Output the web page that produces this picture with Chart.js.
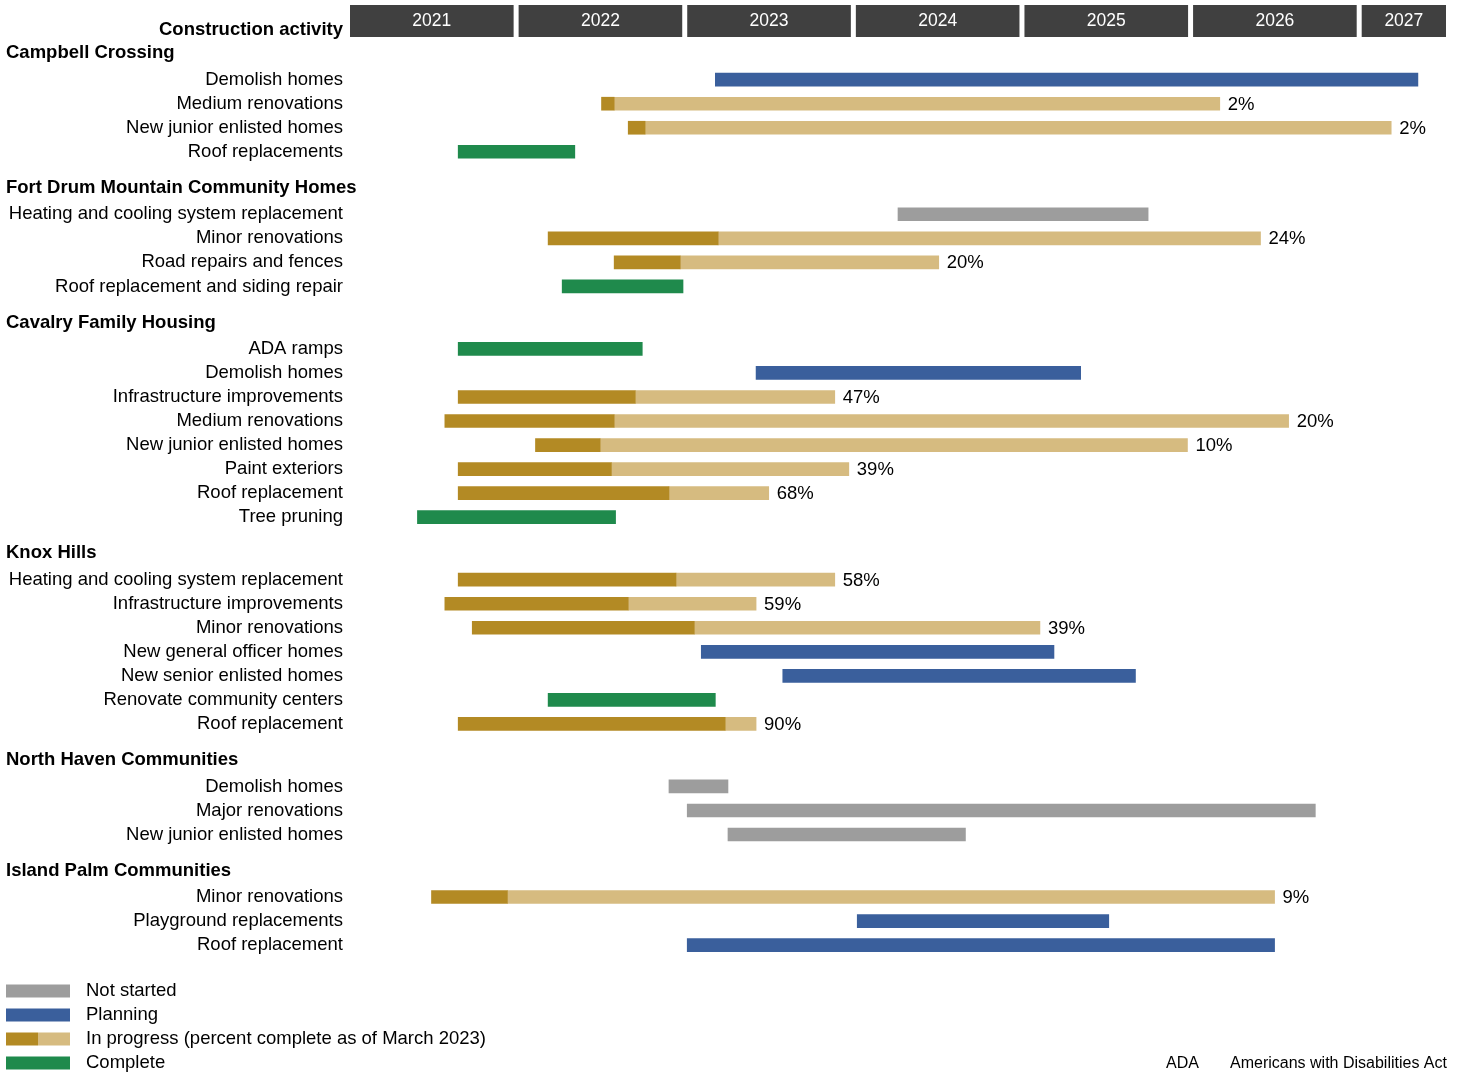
<!DOCTYPE html>
<html>
<head>
<meta charset="utf-8">
<script src="https://cdn.jsdelivr.net/npm/chart.js@4.4.0/dist/chart.umd.min.js"></script>
<style>
  body { margin: 0; background: #fff; }
</style>
</head>
<body>
<canvas id="myChart" width="1459" height="1075"></canvas>
<script>
// months counted from January 2021
const yearLabels = ['2021', '2022', '2023', '2024', '2025', '2026', '2027']

const groupNames = [
  'Campbell Crossing',
  'Fort Drum Mountain Community Homes',
  'Cavalry Family Housing',
  'Knox Hills',
  'North Haven Communities',
  'Island Palm Communities'
]

const activityGroup = [0,0,0,0, 1,1,1,1, 2,2,2,2,2,2,2,2, 3,3,3,3,3,3,3, 4,4,4, 5,5,5]

const activityLabels = [
  'Demolish homes', 'Medium renovations', 'New junior enlisted homes', 'Roof replacements',
  'Heating and cooling system replacement', 'Minor renovations', 'Road repairs and fences', 'Roof replacement and siding repair',
  'ADA ramps', 'Demolish homes', 'Infrastructure improvements', 'Medium renovations', 'New junior enlisted homes', 'Paint exteriors', 'Roof replacement', 'Tree pruning',
  'Heating and cooling system replacement', 'Infrastructure improvements', 'Minor renovations', 'New general officer homes', 'New senior enlisted homes', 'Renovate community centers', 'Roof replacement',
  'Demolish homes', 'Major renovations', 'New junior enlisted homes',
  'Minor renovations', 'Playground replacements', 'Roof replacement'
]

// not = not started, plan = planning, prog = in progress, done = complete
const activityStatus = [
  'plan', 'prog', 'prog', 'done',
  'not', 'prog', 'prog', 'done',
  'done', 'plan', 'prog', 'prog', 'prog', 'prog', 'prog', 'done',
  'prog', 'prog', 'prog', 'plan', 'plan', 'done', 'prog',
  'not', 'not', 'not',
  'prog', 'plan', 'plan'
]

const startMonth = [
  26, 17.9, 19.8, 7.7,
  39, 14.1, 18.8, 15.1,
  7.7, 28.9, 7.7, 6.75, 13.2, 7.7, 7.7, 4.8,
  7.7, 6.75, 8.7, 25, 30.8, 14.1, 7.7,
  22.7, 24, 26.9,
  5.8, 36.1, 24
]

const progressMonth = [
  null, 18.8, 21, null,
  null, 26.2, 23.5, null,
  null, null, 20.3, 18.8, 17.8, 18.6, 22.7, null,
  23.2, 19.8, 24.5, null, null, null, 26.7,
  null, null, null,
  11.2, null, null
]

const endMonth = [
  76, 61.9, 74.1, 16,
  56.8, 64.8, 41.9, 23.7,
  20.8, 52, 34.5, 66.8, 59.6, 35.5, 29.8, 18.9,
  34.5, 28.9, 49.1, 50.1, 55.9, 26, 28.9,
  26.9, 68.7, 43.8,
  65.8, 54, 65.8
]

const percentDone = [
  null, 2, 2, null,
  null, 24, 20, null,
  null, null, 47, 20, 10, 39, 68, null,
  58, 59, 39, null, null, null, 90,
  null, null, null,
  9, null, null
]

const colors = {
  not: '#9d9d9d',
  plan: '#3a5f9c',
  progDone: '#b38a24',
  progLeft: '#d6bb80',
  done: '#1f8a4c',
  header: '#404040'
}

const fontFamily = 'Arial, "Liberation Sans", sans-serif'
const fontSize = 18.5

// row positions on the y scale
let rowPos = []
let headerPos = []
let pos = 0
groupNames.forEach((g, gi) => {
  if (gi > 0) pos += 1.5
  headerPos.push(pos)
  pos += 0.1
  activityGroup.forEach((ag, i) => {
    if (ag === gi) {
      pos += 1
      rowPos[i] = pos
    }
  })
})
const lastPos = pos

function rowsWith(status) {
  return activityLabels.map((l, i) => i).filter(i => activityStatus[i] === status)
}

function barSet(label, color, rows, from, to) {
  return {
    label: label,
    data: rows.map(i => ({ x: [from[i], to[i]], y: rowPos[i] })),
    backgroundColor: color,
    borderWidth: 0,
    barThickness: 13,
    grouped: false
  }
}

const extras = {
  id: 'extras',
  afterDraw(chart) {
    const ctx = chart.ctx
    const xs = chart.scales.x
    const ys = chart.scales.y
    const area = chart.chartArea
    ctx.save()

    // year header band
    ctx.textAlign = 'center'
    ctx.textBaseline = 'middle'
    ctx.font = '17.5px ' + fontFamily
    yearLabels.forEach((yr, k) => {
      const x0 = xs.getPixelForValue(k * 12)
      const x1 = Math.min(xs.getPixelForValue((k + 1) * 12) - 5, area.right)
      ctx.fillStyle = colors.header
      ctx.fillRect(x0, 5, x1 - x0, 32)
      ctx.fillStyle = '#fff'
      ctx.fillText(yr, (x0 + x1) / 2, 21)
    })

    ctx.fillStyle = '#000'
    ctx.font = 'bold ' + fontSize + 'px ' + fontFamily
    ctx.textAlign = 'right'
    ctx.fillText('Construction activity', 343, 30)

    // group headers
    ctx.textAlign = 'left'
    groupNames.forEach((g, gi) => {
      ctx.fillText(g, 6, ys.getPixelForValue(headerPos[gi]))
    })

    // percent labels
    ctx.font = fontSize + 'px ' + fontFamily
    percentDone.forEach((p, i) => {
      if (p === null) return
      ctx.fillText(p + '%', xs.getPixelForValue(endMonth[i]) + 8, ys.getPixelForValue(rowPos[i]) + 1)
    })

    // legend
    const legend = [
      ['Not started', colors.not],
      ['Planning', colors.plan],
      ['In progress (percent complete as of March 2023)', null],
      ['Complete', colors.done]
    ]
    legend.forEach((item, k) => {
      const y = 991 + k * 24
      if (item[1]) {
        ctx.fillStyle = item[1]
        ctx.fillRect(6, y - 6.5, 64, 13)
      } else {
        ctx.fillStyle = colors.progDone
        ctx.fillRect(6, y - 6.5, 32, 13)
        ctx.fillStyle = colors.progLeft
        ctx.fillRect(38, y - 6.5, 32, 13)
      }
      ctx.fillStyle = '#000'
      ctx.fillText(item[0], 86, y)
    })

    ctx.font = '16px ' + fontFamily
    ctx.fillText('ADA', 1166, 1064)
    ctx.fillText('Americans with Disabilities Act', 1230, 1064)
    ctx.restore()
  }
}

const ctx = document.getElementById('myChart')

new Chart(ctx, {
  type: 'bar',
  data: {
    datasets: [
      barSet('Not started', colors.not, rowsWith('not'), startMonth, endMonth),
      barSet('Planning', colors.plan, rowsWith('plan'), startMonth, endMonth),
      barSet('Complete', colors.done, rowsWith('done'), startMonth, endMonth),
      barSet('Done so far', colors.progDone, rowsWith('prog'), startMonth, progressMonth),
      barSet('Remaining', colors.progLeft, rowsWith('prog'), progressMonth, endMonth)
    ]
  },
  options: {
    indexAxis: 'y',
    responsive: false,
    animation: false,
    layout: {
      padding: { top: 40, bottom: 115, left: 0, right: 13 }
    },
    plugins: {
      legend: { display: false },
      tooltip: { enabled: false }
    },
    scales: {
      x: {
        type: 'linear',
        min: 0,
        max: 78,
        display: false
      },
      y: {
        type: 'linear',
        reverse: true,
        offset: false,
        min: -0.55,
        max: lastPos + 0.62,
        grid: { display: false, drawTicks: false, offset: false },
        border: { display: false },
        afterBuildTicks: scale => {
          scale.ticks = rowPos.map(v => ({ value: v }))
        },
        afterFit: scale => {
          scale.width = 350
        },
        ticks: {
          autoSkip: false,
          padding: 7,
          color: '#000',
          font: { size: fontSize, family: fontFamily },
          callback: (v, i) => activityLabels[i]
        }
      }
    }
  },
  plugins: [extras]
})
</script>
</body>
</html>
